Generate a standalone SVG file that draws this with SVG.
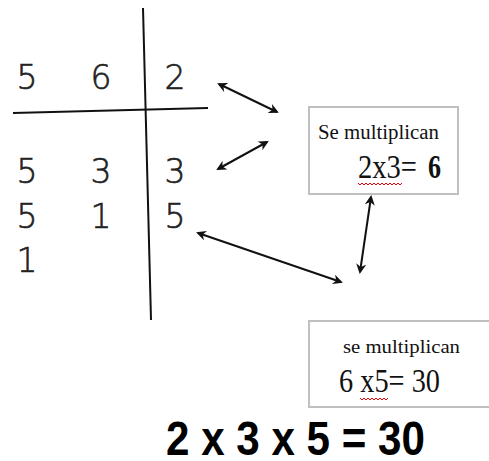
<svg xmlns="http://www.w3.org/2000/svg" width="489" height="461" viewBox="0 0 489 461">
<style>
.dg{font-family:"DejaVu Sans","Liberation Sans",sans-serif;font-weight:200;font-size:33px;fill:#222;stroke:#222;stroke-width:0.6}
.tm{font-family:"Liberation Serif","Times New Roman",serif;fill:#111}
.bx{fill:#fff;stroke:#c0c0c0;stroke-width:2}
.ln{stroke:#111;stroke-width:2;fill:none}
.ar{stroke:#111;stroke-width:2;fill:none;marker-start:url(#ah);marker-end:url(#ah)}
.sq{stroke:#e00;stroke-width:1;fill:none}
</style>
<defs>
<marker id="ah" viewBox="0 0 10 10" refX="8" refY="5" markerWidth="5" markerHeight="5" orient="auto-start-reverse" markerUnits="strokeWidth">
<path d="M0,0 L10,5 L0,10 L3,5 Z" fill="#111"/>
</marker>
</defs>
<g id="table">
<line class="ln" x1="143" y1="8" x2="151" y2="320"/>
<line class="ln" x1="13" y1="113" x2="208" y2="108"/>
<g class="dg" text-anchor="middle">
<text x="27" y="89">5</text><text x="101" y="89">6</text><text x="175" y="89">2</text>
<text x="27" y="183">5</text><text x="101" y="183">3</text><text x="175" y="183">3</text>
<text x="27" y="228">5</text><text x="101" y="228">1</text><text x="175" y="228">5</text>
<text x="27" y="272">1</text>
</g>
</g>
<g id="box1">
<rect class="bx" x="309" y="107" width="149" height="87"/>
<text class="tm" x="318" y="139" font-size="20" textLength="121" lengthAdjust="spacingAndGlyphs">Se multiplican</text>
<text class="tm" x="358" y="178" font-size="34" textLength="59" lengthAdjust="spacingAndGlyphs">2x3=</text>
<text class="tm" x="428" y="178" font-size="34" font-weight="bold" textLength="13" lengthAdjust="spacingAndGlyphs">6</text>
<polyline class="sq" points="358,183 360,185 362,183 364,185 366,183 368,185 370,183 372,185 374,183 376,185 378,183 380,185 382,183 384,185 386,183 388,185 390,183 392,185 394,183 396,185 398,183 400,185 402,183"/>
</g>
<g id="box2">
<rect class="bx" x="309" y="321" width="184" height="86"/>
<text class="tm" x="343" y="353" font-size="19" textLength="117" lengthAdjust="spacingAndGlyphs">se multiplican</text>
<text class="tm" x="339" y="392" font-size="34" textLength="101" lengthAdjust="spacingAndGlyphs">6 x5= 30</text>
<polyline class="sq" points="360,398 362,400 364,398 366,400 368,398 370,400 372,398 374,400 376,398 378,400 380,398 382,400 384,398 386,400 388,398"/>
</g>
<g id="result">
<text x="166" y="455" font-family="Liberation Sans,Arial,sans-serif" font-weight="bold" font-size="49" fill="#000" textLength="259" lengthAdjust="spacingAndGlyphs">2 x 3 x 5 = 30</text>
</g>
<g id="connectors">
<line class="ar" x1="219" y1="84" x2="277" y2="112"/>
<line class="ar" x1="267" y1="142" x2="218" y2="169"/>
<line class="ar" x1="198" y1="233" x2="341" y2="282"/>
<line class="ar" x1="371" y1="197" x2="360" y2="272"/>
</g>
</svg>
